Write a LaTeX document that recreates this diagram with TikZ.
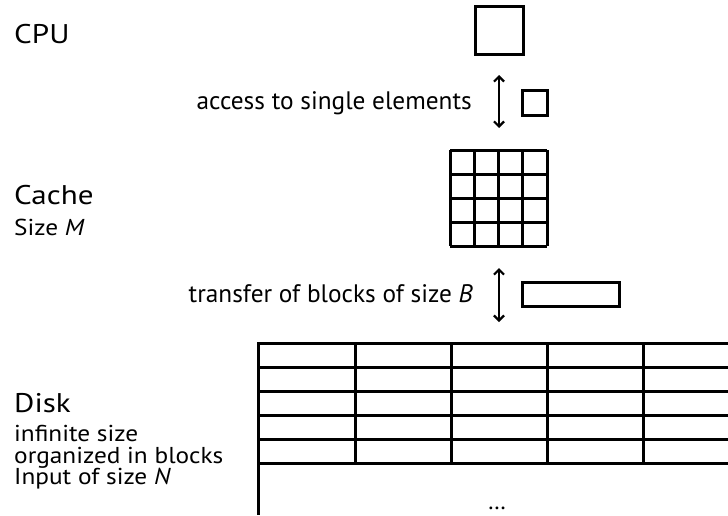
\documentclass[tikz,border=0pt]{standalone}
\usepackage{fontspec}
\setmainfont{PT Sans}
\newfontfamily\bigfont{PT Sans}[FakeStretch=1.15]
\newfontfamily\subfont{PT Sans}[FakeStretch=1.1]
\usetikzlibrary{arrows.meta}
\begin{document}
\begin{tikzpicture}[x=1pt,y=-1pt,
  box/.style={draw,line width=3pt},
  gridline/.style={line width=3pt},
  biarrow/.style={line width=2.2pt,{Straight Barb[length=5pt,width=10pt,line width=2.2pt]}-{Straight Barb[length=5pt,width=10pt,line width=2.2pt]}},
  biglabel/.style={inner sep=0pt,anchor=base west,font=\bigfont\fontsize{27}{30}\selectfont},
  smalllabel/.style={inner sep=0pt,anchor=base west,font=\subfont\fontsize{23}{24}\selectfont},
  midlabel/.style={inner sep=0pt,anchor=base east,font=\fontsize{25.3}{28}\selectfont}]
\useasboundingbox (0,0) rectangle (728,515);
% CPU
\node[box,minimum width=48pt,minimum height=48pt,inner sep=0pt] (cpu) at (499,30) {};
\node[biglabel] (cpulab) at (14,43) {CPU};
% access arrow
\coordinate (a1top) at (499,75);
\coordinate (a1bot) at (499,128);
\draw[biarrow] (a1top) -- (a1bot);
\node[box,minimum width=25pt,minimum height=25pt,inner sep=0pt] (elem) at (534.5,102.5) {};
\node[midlabel] (acc) at (472,109) {access to single elements};
% Cache grid
\node[inner sep=0pt,minimum width=97pt,minimum height=96pt] (cache) at (498.5,198) {};
\foreach \i in {0,...,4} {
  \draw[gridline] (450+\i*24.25,150) -- (450+\i*24.25,246);
  \draw[gridline] (450,150+\i*24) -- (547,150+\i*24);
}
\node[biglabel] (cachelab) at (14,204) {Cache};
\node[smalllabel] (cachesize) at (14,235) {Size \textit{M}};
% transfer arrow
\coordinate (a2top) at (499,268);
\coordinate (a2bot) at (499,322);
\draw[biarrow] (a2top) -- (a2bot);
\node[box,minimum width=97pt,minimum height=24pt,inner sep=0pt] (block) at (570.5,294) {};
\node[midlabel] (trans) at (473,302) {transfer of blocks of size \textit{B}};
% Disk
\foreach \r in {0,...,5} {
  \draw[gridline] (258,343+\r*24) -- (728,343+\r*24);
}
\draw[gridline] (258,342) -- (258,515);
\foreach \c in {355,451,547,643} {
  \draw[gridline] (\c,343) -- (\c,463);
}
\node[inner sep=0pt,anchor=base,font=\fontsize{24}{26}\selectfont] (dots) at (497,509) {\dots};
\node[biglabel] (disklab) at (14,412) {Disk};
\node[smalllabel] (d1) at (14,441) {infinite size};
\node[smalllabel] (d2) at (14,463) {organized in blocks};
\node[smalllabel] (d3) at (14,484) {Input of size \textit{N}};
\end{tikzpicture}
\end{document}
